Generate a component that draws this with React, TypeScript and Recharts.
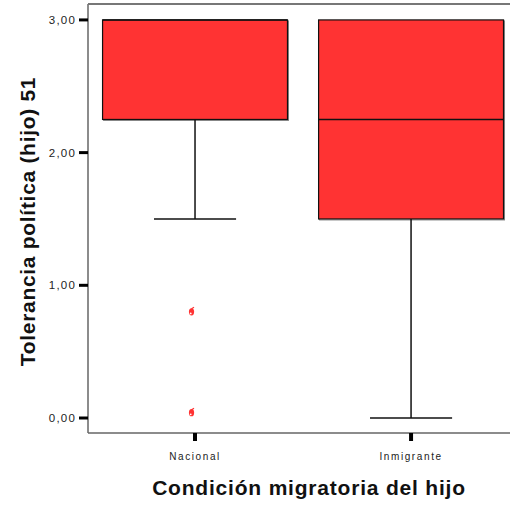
import React from 'react';
import {
  ComposedChart,
  XAxis,
  YAxis,
  Scatter,
  ReferenceArea,
  ReferenceLine,
} from 'recharts';

// ---- data ----
const categories: string[] = ['Nacional', 'Inmigrante'];
const positions: number[] = [1, 2];
const lowerWhisker: number[] = [1.5, 0];
const quartile1: number[] = [2.25, 1.5];
const medians: number[] = [3, 2.25];
const quartile3: number[] = [3, 3];
const upperWhisker: number[] = [3, 3];
const outlierCategory: number[] = [1, 1];
const outlierValues: number[] = [0.8, 0.04];
const yTicks: number[] = [0, 1, 2, 3];

const outliers = outlierValues.map((v, i) => ({ x: outlierCategory[i], y: v }));

const BOX_HALF = 0.428;
const CAP_HALF = 0.19;
const FONT = '"Liberation Sans", Arial, sans-serif';
const X_DOMAIN: [number, number] = [0.5046, 2.458];
const Y_DOMAIN: [number, number] = [-0.113, 3.12];

const fmt = (v: number) => v.toFixed(2).replace('.', ',');

const BoxShape = (props: any) => {
  const { x, y, width, height } = props;
  return (
    <g>
      <rect x={x + 1} y={y + 1} width={width} height={height} fill="none" stroke="#888" strokeWidth={1} />
      <rect x={x} y={y} width={width} height={height} fill="#FF3333" stroke="#111" strokeWidth={1.2} />
    </g>
  );
};

const OutlierShape = (props: any) => {
  const { cx, cy } = props;
  if (cx == null || cy == null) return null;
  const x = cx - 3.5;
  return (
    <g>
      <ellipse cx={x} cy={cy} rx={2.6} ry={3.6} fill="#FF3333" />
      <circle cx={x - 0.8} cy={cy + 1.6} r={0.9} fill="#fff" />
      <line x1={x} y1={cy - 3} x2={x + 2.5} y2={cy - 4.5} stroke="#FF3333" strokeWidth={1.2} />
    </g>
  );
};

const NoShape = () => <g />;

export default function App() {
  return (
    <div style={{ position: 'absolute', left: 0, top: 0, width: 510, height: 506, background: '#fff' }}>
      <ComposedChart
        width={510}
        height={506}
        data={outliers}
        margin={{ top: 3, right: 0, bottom: 0, left: 0 }}
      >
        <XAxis
          xAxisId="frame"
          orientation="top"
          type="number"
          dataKey="x"
          domain={X_DOMAIN}
          allowDataOverflow
          height={1}
          tick={false}
          tickLine={false}
          axisLine={{ stroke: '#777', strokeWidth: 2 }}
        />
        <XAxis
          type="number"
          dataKey="x"
          domain={X_DOMAIN}
          allowDataOverflow
          ticks={positions}
          tickFormatter={(v: number) => categories[positions.indexOf(v)] ?? ''}
          height={73}
          tickSize={8}
          tickMargin={12}
          tick={{ fill: '#222', fontSize: 10, fontFamily: FONT, letterSpacing: 1.6 }}
          tickLine={{ stroke: '#000', strokeWidth: 4 }}
          axisLine={{ stroke: '#666', strokeWidth: 1.5 }}
          label={{
            value: 'Condición migratoria del hijo',
            position: 'insideBottom',
            offset: 11,
            dx: 10,
            style: { fontSize: 21, fontWeight: 'bold', fontFamily: FONT, fill: '#111', letterSpacing: 0.8 },
          }}
        />
        <YAxis
          type="number"
          domain={Y_DOMAIN}
          allowDataOverflow
          ticks={yTicks}
          tickFormatter={fmt}
          width={88}
          tickSize={9}
          tickMargin={3}
          tick={{ fill: '#222', fontSize: 11.5, fontFamily: FONT, letterSpacing: 1.2 }}
          tickLine={{ stroke: '#000', strokeWidth: 3 }}
          axisLine={{ stroke: '#666', strokeWidth: 1.5 }}
          label={{
            value: 'Tolerancia política (hijo) 51',
            angle: -90,
            position: 'center',
            dx: -16.5,
            dy: 3,
            style: { fontSize: 21, fontWeight: 'bold', fontFamily: FONT, fill: '#111', letterSpacing: 0.7 },
          }}
        />
        {positions.map((p, i) => (
          <ReferenceArea
            key={`box-${i}`}
            x1={p - BOX_HALF}
            x2={p + BOX_HALF}
            y1={quartile1[i]}
            y2={quartile3[i]}
            ifOverflow="visible"
            shape={<BoxShape />}
          />
        ))}
        {positions.map((p, i) => (
          <ReferenceLine
            key={`med-${i}`}
            segment={[{ x: p - BOX_HALF, y: medians[i] }, { x: p + BOX_HALF, y: medians[i] }]}
            stroke="#111"
            strokeWidth={1.5}
            ifOverflow="visible"
          />
        ))}
        {positions.map((p, i) => (
          <ReferenceLine
            key={`wl-${i}`}
            segment={[{ x: p, y: quartile1[i] }, { x: p, y: lowerWhisker[i] }]}
            stroke="#111"
            strokeWidth={1.5}
            ifOverflow="visible"
          />
        ))}
        {positions.map((p, i) => (
          <ReferenceLine
            key={`wh-${i}`}
            segment={[{ x: p, y: quartile3[i] }, { x: p, y: upperWhisker[i] }]}
            stroke="#111"
            strokeWidth={1.5}
            ifOverflow="visible"
          />
        ))}
        {positions.map((p, i) => (
          <ReferenceLine
            key={`capl-${i}`}
            segment={[{ x: p - CAP_HALF, y: lowerWhisker[i] }, { x: p + CAP_HALF, y: lowerWhisker[i] }]}
            stroke="#111"
            strokeWidth={1.5}
            ifOverflow="visible"
          />
        ))}
        <Scatter
          xAxisId="frame"
          data={outliers}
          dataKey="y"
          isAnimationActive={false}
          shape={<NoShape />}
          legendType="none"
        />
        <Scatter
          data={outliers}
          dataKey="y"
          fill="#FF3333"
          isAnimationActive={false}
          shape={<OutlierShape />}
        />
      </ComposedChart>
      <div
        style={{
          position: 'absolute',
          left: 88,
          top: 3,
          width: 422,
          height: 2,
          background: '#777',
          pointerEvents: 'none',
        }}
      />
    </div>
  );
}
